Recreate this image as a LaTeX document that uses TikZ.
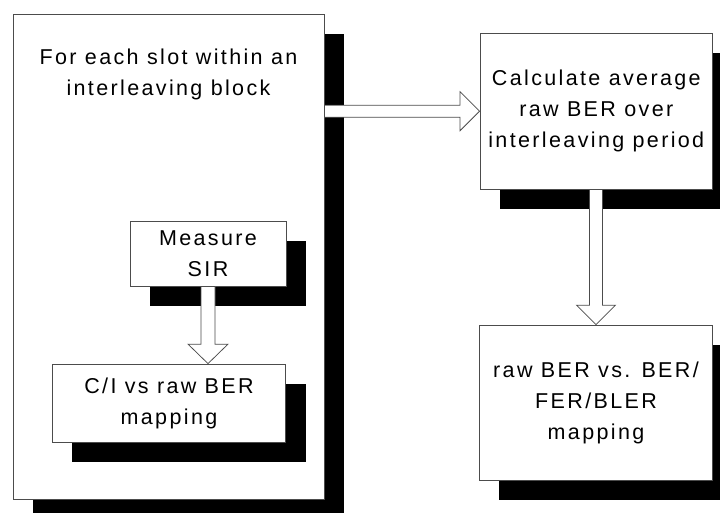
\documentclass[tikz,border=0pt]{standalone}
\usepackage{fontspec}
\setmainfont{Liberation Sans}[LetterSpace=11]
\usetikzlibrary{shadows,calc}

\tikzset{
  boxtext/.style={font=\fontsize{21.5}{31}\selectfont, align=center, inner sep=0pt},
  box/.style={boxtext, draw=black!70, line width=0.75pt, fill=white,
    drop shadow={shadow xshift=20pt, shadow yshift=-20pt, fill=black, opacity=1}},
  blockarrow/.style={draw=black!70, line width=0.75pt, fill=white, line join=miter},
}

\begin{document}
\begin{tikzpicture}[x=1pt, y=-1pt]
  \useasboundingbox (0,0) rectangle (720,513);
  \clip (0,0) rectangle (720,513);

  % outer block with its caption
  \node[box, minimum width=311pt, minimum height=485pt] (big) at (168.5,256.5) {};
  \node[boxtext, anchor=north] (bigtext) at (168.5,49) {For each slot within an\\interleaving block};

  % inner steps
  \node[box, minimum width=156pt, minimum height=65pt] (sir) at (208,253.5) {Measure\\SIR};
  \node[box, minimum width=233.4pt, minimum height=78pt] (ci) at (169,403) {C/I vs raw BER\\mapping};

  % right-hand steps
  \node[box, minimum width=232.7pt, minimum height=155.7pt] (calc) at (596.3,111.2)
    {Calculate average\\raw BER over\\interleaving period};
  \node[box, minimum width=233.4pt, minimum height=155pt] (res) at (596,402.5)
    {raw BER vs. BER/\\FER/BLER\\mapping};

  % hollow block arrows
  \coordinate (h0) at (big.east |- calc.west);
  \draw[blockarrow] ($(h0)+(0,-6)$) -- ($(calc.west)+(-19.5,-6)$) -- ($(calc.west)+(-19.5,-19.5)$)
    -- (calc.west) -- ($(calc.west)+(-19.5,19.5)$) -- ($(calc.west)+(-19.5,6)$) -- ($(h0)+(0,6)$) -- cycle;

  \coordinate (v0) at (res.north |- calc.south);
  \draw[blockarrow] ($(v0)+(-6.5,0)$) -- ($(res.north)+(-6.5,-19.5)$) -- ($(res.north)+(-19.5,-19.5)$)
    -- (res.north) -- ($(res.north)+(19.5,-19.5)$) -- ($(res.north)+(6.5,-19.5)$) -- ($(v0)+(6.5,0)$) -- cycle;

  \coordinate (s1) at (sir.south |- ci.north);
  \draw[blockarrow] ($(sir.south)+(-7,0)$) -- ($(s1)+(-7,-19.5)$) -- ($(s1)+(-20,-19.5)$)
    -- (s1) -- ($(s1)+(20,-19.5)$) -- ($(s1)+(7,-19.5)$) -- ($(sir.south)+(7,0)$) -- cycle;
\end{tikzpicture}
\end{document}
